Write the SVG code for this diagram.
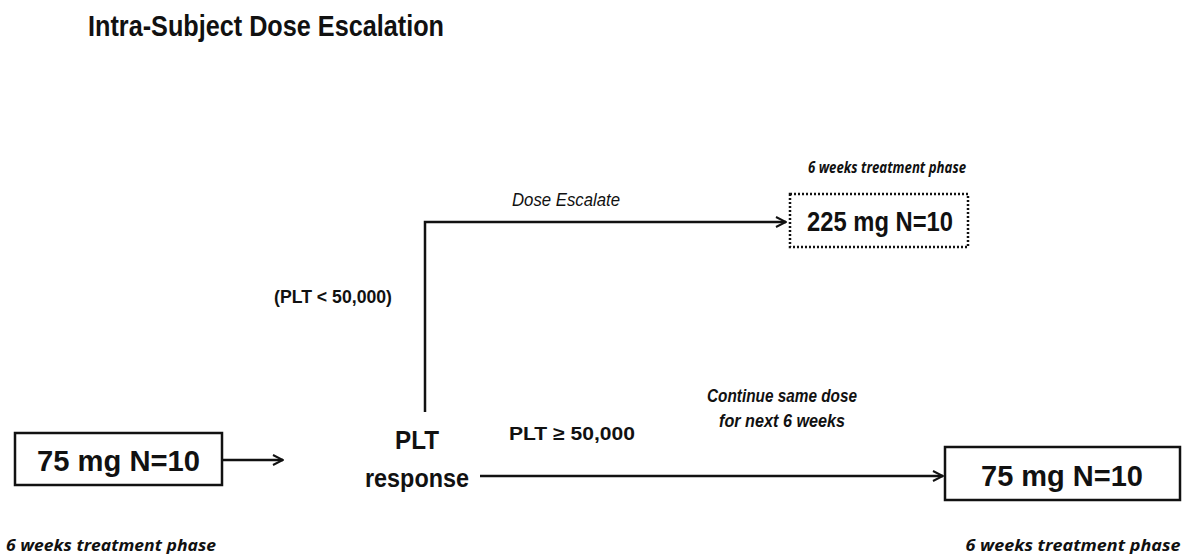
<svg xmlns="http://www.w3.org/2000/svg" width="1195" height="554" viewBox="0 0 1195 554">
<defs>
<style>
.t{font-family:"Liberation Sans",Arial,sans-serif;fill:#111;}
.b{font-weight:bold;}
.i{font-style:italic;}
.ph{font-family:"Open Sans","Noto Sans",sans-serif;font-weight:bold;font-style:italic;font-size:16px;fill:#111;}
.box{fill:#fff;stroke:#111;stroke-width:2.5;}
.ln{fill:none;stroke:#111;stroke-width:2.5;}
</style>
<marker id="ah" viewBox="0 0 12 12" refX="11" refY="6" markerWidth="12" markerHeight="12" markerUnits="userSpaceOnUse" orient="auto">
<path d="M1,1 L11,6 L1,11" fill="none" stroke="#111" stroke-width="2"/>
</marker>
</defs>
<rect width="1195" height="554" fill="#fff"/>
<text class="t b" x="88" y="36" font-size="30" textLength="356" lengthAdjust="spacingAndGlyphs">Intra-Subject Dose Escalation</text>
<g id="connectors">
<line class="ln" x1="222" y1="460" x2="283" y2="460" marker-end="url(#ah)"/>
<polyline class="ln" points="425,412 425,222 786,222" marker-end="url(#ah)"/>
<line class="ln" x1="480" y1="476" x2="943" y2="476" marker-end="url(#ah)"/>
<text class="t i" x="566" y="206" font-size="19" text-anchor="middle" textLength="108" lengthAdjust="spacingAndGlyphs">Dose Escalate</text>
<text class="t b" x="333" y="303" font-size="19" text-anchor="middle" textLength="118" lengthAdjust="spacingAndGlyphs">(PLT &lt; 50,000)</text>
<text class="t b" x="572" y="440" font-size="19" text-anchor="middle" textLength="126" lengthAdjust="spacingAndGlyphs">PLT ≥ 50,000</text>
<text class="t b i" x="782" y="402" font-size="18" text-anchor="middle" textLength="150" lengthAdjust="spacingAndGlyphs">Continue same dose</text>
<text class="t b i" x="782" y="427" font-size="18" text-anchor="middle" textLength="126" lengthAdjust="spacingAndGlyphs">for next 6 weeks</text>
</g>
<g id="start">
<rect class="box" x="15" y="433" width="207" height="52"/>
<text class="t b" x="118.5" y="471" font-size="30" text-anchor="middle" textLength="163" lengthAdjust="spacingAndGlyphs">75 mg N=10</text>
<text class="ph" x="6" y="551" textLength="210" lengthAdjust="spacingAndGlyphs">6 weeks treatment phase</text>
</g>
<g id="plt">
<text class="t b" x="417" y="449" font-size="26" text-anchor="middle" textLength="44" lengthAdjust="spacingAndGlyphs">PLT</text>
<text class="t b" x="417" y="487" font-size="26" text-anchor="middle" textLength="104" lengthAdjust="spacingAndGlyphs">response</text>
</g>
<g id="escalate">
<rect class="box" x="790" y="194" width="178" height="53" stroke-dasharray="2 2"/>
<text class="t b" x="880" y="231" font-size="27" text-anchor="middle" textLength="146" lengthAdjust="spacingAndGlyphs">225 mg N=10</text>
<text class="ph" x="887" y="173" text-anchor="middle" textLength="158" lengthAdjust="spacingAndGlyphs">6 weeks treatment phase</text>
</g>
<g id="continue">
<rect class="box" x="945" y="447" width="235" height="53"/>
<text class="t b" x="1062" y="486" font-size="30" text-anchor="middle" textLength="162" lengthAdjust="spacingAndGlyphs">75 mg N=10</text>
<text class="ph" x="1073" y="551" text-anchor="middle" textLength="215" lengthAdjust="spacingAndGlyphs">6 weeks treatment phase</text>
</g>
</svg>
